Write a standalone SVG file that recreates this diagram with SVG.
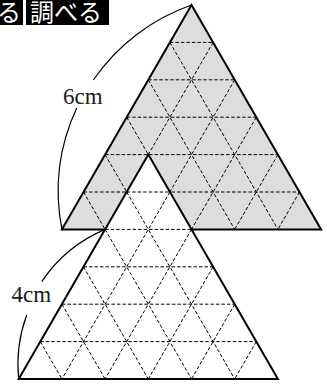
<svg xmlns="http://www.w3.org/2000/svg" width="327" height="385" viewBox="0 0 327 385">
<style>
.outline{fill:none;stroke:#000;stroke-width:2;stroke-linejoin:miter}
.grid{fill:none;stroke:#000;stroke-width:1;stroke-dasharray:3.5 2}
.arc{fill:none;stroke:#000;stroke-width:1.2}
.lbl{font-family:"Liberation Serif","Times New Roman",serif;font-size:23px;fill:#1a1a1a}
.hdr{font-family:"Noto Sans CJK JP","Noto Sans CJK SC",sans-serif;font-size:24px;fill:#fff}
</style>
<rect width="327" height="385" fill="#fff"/>
<g id="header">
<rect x="0" y="0" width="23" height="25" fill="#000"/>
<text class="hdr" x="-3" y="21">る</text>
<rect x="26" y="0" width="83" height="25" fill="#000"/>
<text class="hdr" x="30" y="21">調べる</text>
</g>
<g id="big-triangle">
<polygon points="191.5,5 321.1,229.4 61.9,229.4" fill="#dcdddd" stroke="none"/>
<path class="grid" d="M169.9,42.4H213.1M148.3,79.8H234.7M126.7,117.2H256.3M105.1,154.6H277.9M83.5,192H299.5
M213.1,42.4L105.1,229.4M234.7,79.8L148.3,229.4M256.3,117.2L191.5,229.4M277.9,154.6L234.7,229.4M299.5,192L277.9,229.4
M169.9,42.4L277.9,229.4M148.3,79.8L234.7,229.4M126.7,117.2L191.5,229.4M105.1,154.6L148.3,229.4M83.5,192L105.1,229.4"/>
<polygon class="outline" points="191.5,5 321.1,229.4 61.9,229.4"/>
</g>
<g id="small-triangle">
<polygon points="148.3,154.6 277.9,379 18.7,379" fill="#fff" stroke="none"/>
<path class="grid" d="M126.7,192H169.9M105.1,229.4H191.5M83.5,266.8H213.1M61.9,304.2H234.7M40.3,341.6H256.3
M169.9,192L61.9,379M191.5,229.4L105.1,379M213.1,266.8L148.3,379M234.7,304.2L191.5,379M256.3,341.6L234.7,379
M126.7,192L234.7,379M105.1,229.4L191.5,379M83.5,266.8L148.3,379M61.9,304.2L105.1,379M40.3,341.6L61.9,379"/>
<polygon class="outline" points="148.3,154.6 277.9,379 18.7,379"/>
</g>
<g id="connectors">
<path class="arc" d="M191.5,5A198.6,198.6 0 0 0 93.3,80"/>
<path class="arc" d="M76.7,108A198.6,198.6 0 0 0 61.9,229.4"/>
<path class="arc" d="M105.1,229.4A142.9,142.9 0 0 0 41.7,281.7"/>
<path class="arc" d="M26.7,315A142.9,142.9 0 0 0 18.7,379"/>
</g>
<g id="labels">
<text class="lbl" x="63" y="104">6cm</text>
<text class="lbl" x="11.5" y="302">4cm</text>
</g>
</svg>
